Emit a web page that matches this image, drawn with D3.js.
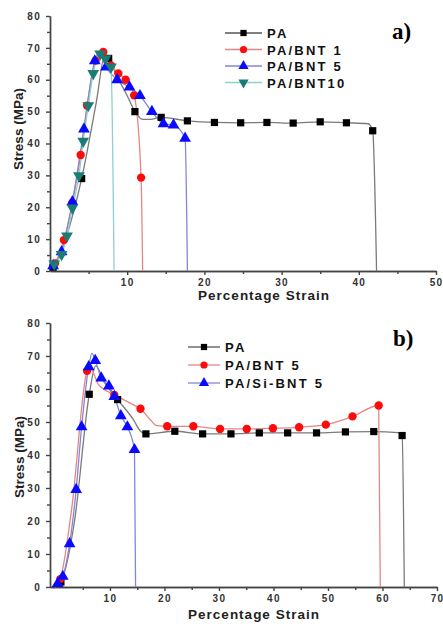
<!DOCTYPE html>
<meta charset="utf-8">
<style>
body { margin: 0; background: #fff; }
.tick text { font: bold 10px "Liberation Sans", Arial, sans-serif; fill: #333; letter-spacing: 1.3px; }
.axis path, .axis line { stroke: #444; stroke-width: 1.4; }
.label { font: bold 13.5px "Liberation Sans", Arial, sans-serif; fill: #222; }
.legend text { font: bold 13px "Liberation Sans", Arial, sans-serif; fill: #111; letter-spacing: 2.2px; }
.tag { font: bold 23px "Liberation Serif", "Times New Roman", serif; fill: #000; }
</style>
<body>
<svg width="443" height="624"></svg>
</body>
<script src="https://d3js.org/d3.v7.min.js"></script>
<script>

// ---- panel a) data (strain %, stress MPa) ----
var aNames = ["PA", "PA/BNT 1", "PA/BNT 5", "PA/BNT10"];

var aPAmarks = [[0.4,1.2],[4.1,29],[7.6,66.7],[11,50],[14.4,48.2],[17.8,47.1],[21.3,46.6],[24.7,46.5],[28.1,46.6],[31.5,46.4],[35,46.8],[38.4,46.5],[41.8,44]];
var aPAline  = [[0,0],[0.4,1.2],[2,10],[4.1,29],[6,53],[7.1,67.6],[7.6,66.7],[8.6,61.5],[10,55],[11,50],[12,47.6],[13,47.6],[14.4,48.2],[17.8,47.1],[21.3,46.6],[24.7,46.5],[28.1,46.6],[31.5,46.4],[35,46.8],[38.4,46.5],[41.2,46.2],[41.8,44],[42.3,0]];

var aB1marks = [[0.65,2.4],[1.8,9.7],[2.9,21.4],[3.97,36.4],[4.8,51.9],[5.9,66],[6.9,68.7],[7.9,64.5],[8.85,62],[9.8,60],[10.9,55.1],[11.8,29.3]];
var aB1line  = [[0,0],[0.65,2.4],[1.8,9.7],[2.9,21.4],[3.97,36.4],[4.8,51.9],[5.9,66],[6.9,68.7],[7.9,64.5],[8.85,62],[9.8,60],[10.9,55.1],[11.8,29.3],[12,0]];

var aB5marks = [[0.4,1.6],[1.5,6],[2.9,21.7],[4.4,44.5],[5.8,65.9],[7.25,64],[8.7,60],[10.3,57.7],[11.65,55],[13.2,50],[14.7,46.2],[16,45.8],[17.5,41.6]];
var aB5line  = [[0,0],[0.4,1.6],[1.5,6],[2.9,21.7],[4.4,44.5],[5.8,65.9],[6.4,68.4],[7.25,64],[8.7,60],[10.3,57.7],[11.65,55],[13.2,50],[14.7,46.2],[16,45.8],[17.5,41.6],[17.8,0]];

var aB10marks = [[0.55,2.2],[1.5,5.2],[2.2,11],[2.9,19.8],[3.75,29.9],[4.3,40.7],[4.96,51.9],[5.6,62],[6.5,68.1],[7.2,66.6],[7.9,64]];
var aB10line  = [[0,0],[0.55,2.2],[1.5,5.2],[2.2,11],[2.9,19.8],[3.75,29.9],[4.3,40.7],[4.96,51.9],[5.6,62],[6.5,68.1],[7.2,66.6],[7.9,64],[8.3,0]];

var aXTicks = [10, 20, 30, 40, 50];
var aXMinor = [5, 15, 25, 35, 45];

// ---- panel b) data ----
var bNames = ["PA", "PA/BNT 5", "PA/Si-BNT 5"];

var bPAmarks = [[1,1.5],[6.2,58.4],[11.4,56.8],[16.6,46.4],[21.9,47.2],[27,46.4],[32.2,46.4],[37.4,46.7],[42.6,46.7],[47.9,46.7],[53.2,47],[58.4,47.1],[63.6,45.9]];
var bPAline  = [[0,0],[1,1.5],[3.5,20],[6.2,58.4],[7.4,67],[9,62],[11.4,56.8],[14.3,50.7],[15.6,47.2],[16.6,46.4],[21.9,47.2],[27,46.4],[32.2,46.4],[37.4,46.7],[42.6,46.7],[47.9,46.7],[53.2,47],[58.4,47.1],[62.8,46.8],[63.6,45.9],[64,0]];

var bB5marks = [[0.9,2.4],[5.8,65.5],[10.8,58.2],[15.6,54],[20.5,48.7],[25.3,48.7],[30.2,47.9],[35.1,47.9],[39.9,48.1],[44.7,48.4],[49.6,49.2],[54.5,51.7],[59.3,55]];
var bB5line  = [[0,0],[0.9,2.4],[3,24],[5.8,65.5],[6.3,66.6],[7.9,61.3],[9.5,59.3],[10.8,58.2],[13.7,55.7],[15.6,54],[17.4,50.7],[18.6,48.9],[20.5,48.7],[25.3,48.7],[30.2,47.9],[35.1,47.9],[39.9,48.1],[44.7,48.4],[49.6,49.2],[54.5,51.7],[59.3,55],[59.6,0]];

var bSimarks = [[0.4,1],[1.35,3.2],[2.6,13.1],[3.8,29.5],[4.8,48.5],[6.1,66.7],[7.3,68.6],[8.4,63.3],[9.8,60.9],[10.8,57.7],[12,51.9],[13.2,48.5],[14.5,41.6]];
var bSiline  = [[0,0],[0.4,1],[1.35,3.2],[2.6,13.1],[3.8,29.5],[4.8,48.5],[6.1,66.7],[6.7,70.8],[7.3,68.6],[8.4,63.3],[9.8,60.9],[10.8,57.7],[12,51.9],[13.2,48.5],[14.5,41.6],[14.7,0]];

var bXTicks = [10, 20, 30, 40, 50, 60, 70];
var bXMinor = [5, 15, 25, 35, 45, 55, 65];

var yTicks = [0, 10, 20, 30, 40, 50, 60, 70, 80];
var yMinor = [5, 15, 25, 35, 45, 55, 65, 75];

// marker styles
var styles = {
  sq:   { sym: d3.symbolSquare,   size: 52, fill: "#000",    line: "#7a7a7a", rot: 0 },
  red:  { sym: d3.symbolCircle,   size: 55, fill: "#ff0a0a", line: "#e58585", rot: 0 },
  blue: { sym: d3.symbolTriangle, size: 60, fill: "#0a0aff", line: "#8585d6", rot: 0 },
  teal: { sym: d3.symbolTriangle, size: 60, fill: "#1a7c74", line: "#8fd0c8", rot: 180 }
};

var svg = d3.select("svg");

function panel(o) {
  var x = d3.scaleLinear().domain(o.xDom).range(o.xRange);
  var y = d3.scaleLinear().domain([0, 80]).range(o.yRange);
  var g = svg.append("g");

  // axes: major + minor ticks
  g.append("g").attr("class", "axis")
    .attr("transform", "translate(0," + o.yRange[0] + ")")
    .call(d3.axisBottom(x).tickValues(o.xTicks).tickSize(4).tickSizeOuter(0).tickPadding(4));
  g.append("g").attr("class", "axis")
    .attr("transform", "translate(0," + o.yRange[0] + ")")
    .call(d3.axisBottom(x).tickValues(o.xMinor).tickSize(3).tickSizeOuter(0).tickFormat(""));
  g.append("g").attr("class", "axis")
    .attr("transform", "translate(" + o.xRange[0] + ",0)")
    .call(d3.axisLeft(y).tickValues(yTicks).tickSize(4).tickSizeOuter(0).tickPadding(5));
  g.append("g").attr("class", "axis")
    .attr("transform", "translate(" + o.xRange[0] + ",0)")
    .call(d3.axisLeft(y).tickValues(yMinor).tickSize(3).tickSizeOuter(0).tickFormat(""));

  var line = d3.line()
    .x(function(d) { return x(d[0]); })
    .y(function(d) { return y(d[1]); })
    .curve(d3.curveMonotoneX);

  o.series.forEach(function(s) {
    var st = styles[s.style];
    g.append("path")
      .datum(s.line)
      .attr("fill", "none")
      .attr("stroke", st.line)
      .attr("stroke-width", 1.3)
      .attr("d", line);
  });
  o.series.forEach(function(s) {
    var st = styles[s.style];
    g.selectAll(null)
      .data(s.marks)
      .enter().append("path")
      .attr("d", d3.symbol().type(st.sym).size(st.size))
      .attr("fill", st.fill)
      .attr("transform", function(d) {
        return "translate(" + x(d[0]) + "," + y(d[1]) + ") rotate(" + st.rot + ")";
      });
  });

  // axis titles
  g.append("text").attr("class", "label")
    .attr("x", o.xLabelX).attr("y", o.xLabelY)
    .attr("text-anchor", "middle").attr("letter-spacing", "1px")
    .text("Percentage Strain");
  g.append("text").attr("class", "label")
    .attr("transform", "translate(" + o.yLabelX + "," + o.yLabelY + ") rotate(-90)")
    .attr("text-anchor", "middle")
    .text("Stress (MPa)");

  // legend
  var leg = g.append("g").attr("class", "legend");
  o.series.forEach(function(s, i) {
    var st = styles[s.style];
    var ly = o.legY + i * o.legStep;
    leg.append("line")
      .attr("x1", o.legX).attr("x2", o.legX + o.legW)
      .attr("y1", ly).attr("y2", ly)
      .attr("stroke", s.style == "sq" ? "#555" : st.line).attr("stroke-width", 1.3);
    leg.append("path")
      .attr("d", d3.symbol().type(st.sym).size(st.size * 0.75))
      .attr("fill", st.fill)
      .attr("transform", "translate(" + (o.legX + o.legW / 2) + "," + ly + ") rotate(" + st.rot + ")");
    leg.append("text")
      .attr("x", o.legX + o.legW + 5).attr("y", ly + 5)
      .text(s.name);
  });

  g.append("text").attr("class", "tag")
    .attr("x", o.tagX).attr("y", o.tagY).text(o.tag);
}

panel({
  xDom: [0, 50], xRange: [50, 436], yRange: [271, 16],
  xTicks: aXTicks, xMinor: aXMinor,
  series: [
    { name: aNames[0], style: "sq",   marks: aPAmarks,  line: aPAline },
    { name: aNames[1], style: "red",  marks: aB1marks,  line: aB1line },
    { name: aNames[2], style: "blue", marks: aB5marks,  line: aB5line },
    { name: aNames[3], style: "teal", marks: aB10marks, line: aB10line }
  ],
  xLabelX: 264, xLabelY: 300, yLabelX: 23, yLabelY: 129,
  legX: 225, legY: 33, legStep: 16.5, legW: 37,
  tag: "a)", tagX: 392, tagY: 39
});

panel({
  xDom: [-1, 70], xRange: [50, 437], yRange: [587, 323],
  xTicks: bXTicks, xMinor: bXMinor,
  series: [
    { name: bNames[0], style: "sq",   marks: bPAmarks, line: bPAline },
    { name: bNames[1], style: "red",  marks: bB5marks, line: bB5line },
    { name: bNames[2], style: "blue", marks: bSimarks, line: bSiline }
  ],
  xLabelX: 254, xLabelY: 619, yLabelX: 24, yLabelY: 457,
  legX: 188, legY: 347, legStep: 18, legW: 32,
  tag: "b)", tagX: 393, tagY: 346
});

</script>
